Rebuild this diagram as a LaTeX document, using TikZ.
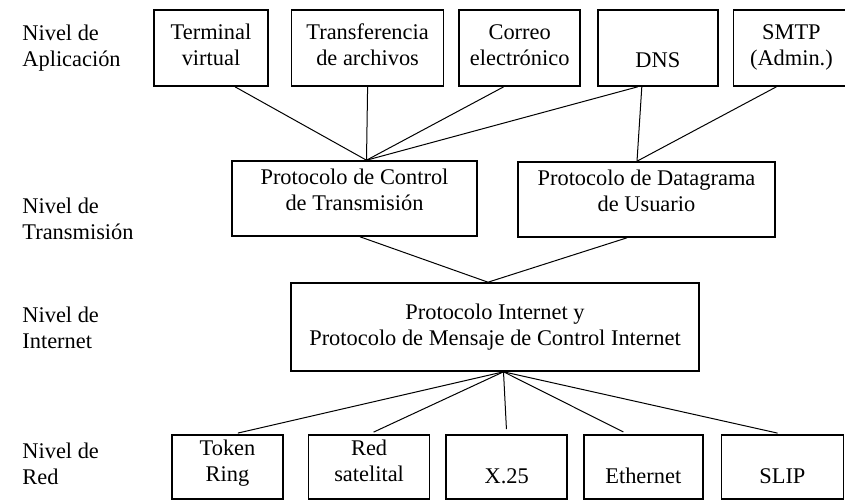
\documentclass[tikz,border=0pt]{standalone}
\usepackage{fontspec}
\setmainfont{Liberation Serif}
\usepackage{tikz}
\usetikzlibrary{positioning}

\begin{document}
\begin{tikzpicture}[
  x=0.5pt, y=-0.5pt,
  lvl/.style={anchor=west, align=left, inner sep=0pt, font=\fontsize{11.2}{13}\selectfont},
  box/.style={draw, rectangle, line width=0.8pt, align=center, inner sep=2pt, font=\fontsize{11.2}{13}\selectfont},
  appbox/.style={box, minimum height=38pt},
  trbox/.style={box, minimum height=37.5pt},
  netbox/.style={box, minimum height=32pt},
  link/.style={line width=0.5pt, black},
  gaplink/.style={link, shorten >=2.5pt}
]
\useasboundingbox (0,0) rectangle (845,502);

% level labels
\node[lvl] (LvlApp) at (22,48)  {Nivel de\\Aplicación};
\node[lvl] (LvlTr)  at (22,219) {Nivel de\\Transmisión};
\node[lvl] (LvlIp)  at (22,328) {Nivel de\\Internet};
\node[lvl] (LvlNet) at (22,464) {Nivel de\\Red};

% application nodes
\node[appbox, minimum width=57pt] (Term) at (211,48) {Terminal\\virtual\\[-14pt]\strut};
\node[appbox, minimum width=76pt] (Ftp)  [right=11pt of Term] {Transferencia\\de archivos\\[-14pt]\strut};
\node[appbox, minimum width=60.5pt] (Mail) [right=7pt of Ftp] {Correo\\electrónico\\[-14pt]\strut};
\node[appbox, minimum width=60pt] (Dns)  [right=8pt of Mail] {\strut\\DNS\\[-14pt]\strut};
\node[appbox, minimum width=58pt] (Smtp) [right=7pt of Dns]  {SMTP\\(Admin.)\\[-14pt]\strut};

% transport nodes
\node[trbox, minimum width=122.5pt] (Tcp) at (354.5,198.5) {Protocolo de Control\\de Transmisión\\[-8pt]\strut};
\node[trbox, minimum width=128.5pt] (Udp) at (646.5,199.5) {Protocolo de Datagrama\\de Usuario\\[-8pt]\strut};

% internet node
\node[box, minimum width=204pt, minimum height=44pt] (Ip) at (495,327)
  {Protocolo Internet y\\Protocolo de Mensaje de Control Internet};

% network nodes
\node[netbox, minimum width=55.5pt] (Token) at (227.5,467) {Token\\Ring\\[-11pt]\strut};
\node[netbox, minimum width=60.5pt] (Sat) [right=12pt of Token] {Red\\satelital\\[-11pt]\strut};
\node[netbox, minimum width=60.5pt] (Xx)  [right=7.5pt of Sat]  {\strut\\X.25\\[-11pt]\strut};
\node[netbox, minimum width=59.5pt] (Eth) [right=7.5pt of Xx]   {\strut\\Ethernet\\[-11pt]\strut};
\node[netbox, minimum width=61pt]   (Slip) [right=8.5pt of Eth] {\strut\\SLIP\\[-11pt]\strut};

% meeting points
\coordinate (TcpTop) at ([xshift=6pt]Tcp.north);
\coordinate (UdpTop) at ([xshift=-4.75pt]Udp.north);
\coordinate (IpTop)  at ([xshift=-3.5pt]Ip.north);
\coordinate (IpBot)  at ([xshift=4.25pt]Ip.south);

% application -> transport
\draw[link] ([xshift=12pt]Term.south) -- (TcpTop);
\draw[link] (Ftp.south) -- (TcpTop);
\draw[link] ([xshift=-8pt]Mail.south) -- (TcpTop);
\draw[link] ([xshift=-10pt]Dns.south) -- (TcpTop);
\draw[link] ([xshift=-8pt]Dns.south) -- (UdpTop);
\draw[link] ([xshift=-7.5pt]Smtp.south) -- (UdpTop);

% transport -> internet
\draw[link] ([xshift=2.75pt]Tcp.south) -- (IpTop);
\draw[link] ([xshift=-9.75pt]Udp.south) -- (IpTop);

% internet -> network
\draw[gaplink] (IpBot) -- ([xshift=2.75pt]Token.north);
\draw[gaplink] (IpBot) -- (Sat.north);
\draw[gaplink] (IpBot) -- (Xx.north);
\draw[gaplink] (IpBot) -- ([xshift=-7.75pt]Eth.north);
\draw[gaplink] (IpBot) -- (Slip.north);

\end{tikzpicture}
\end{document}
